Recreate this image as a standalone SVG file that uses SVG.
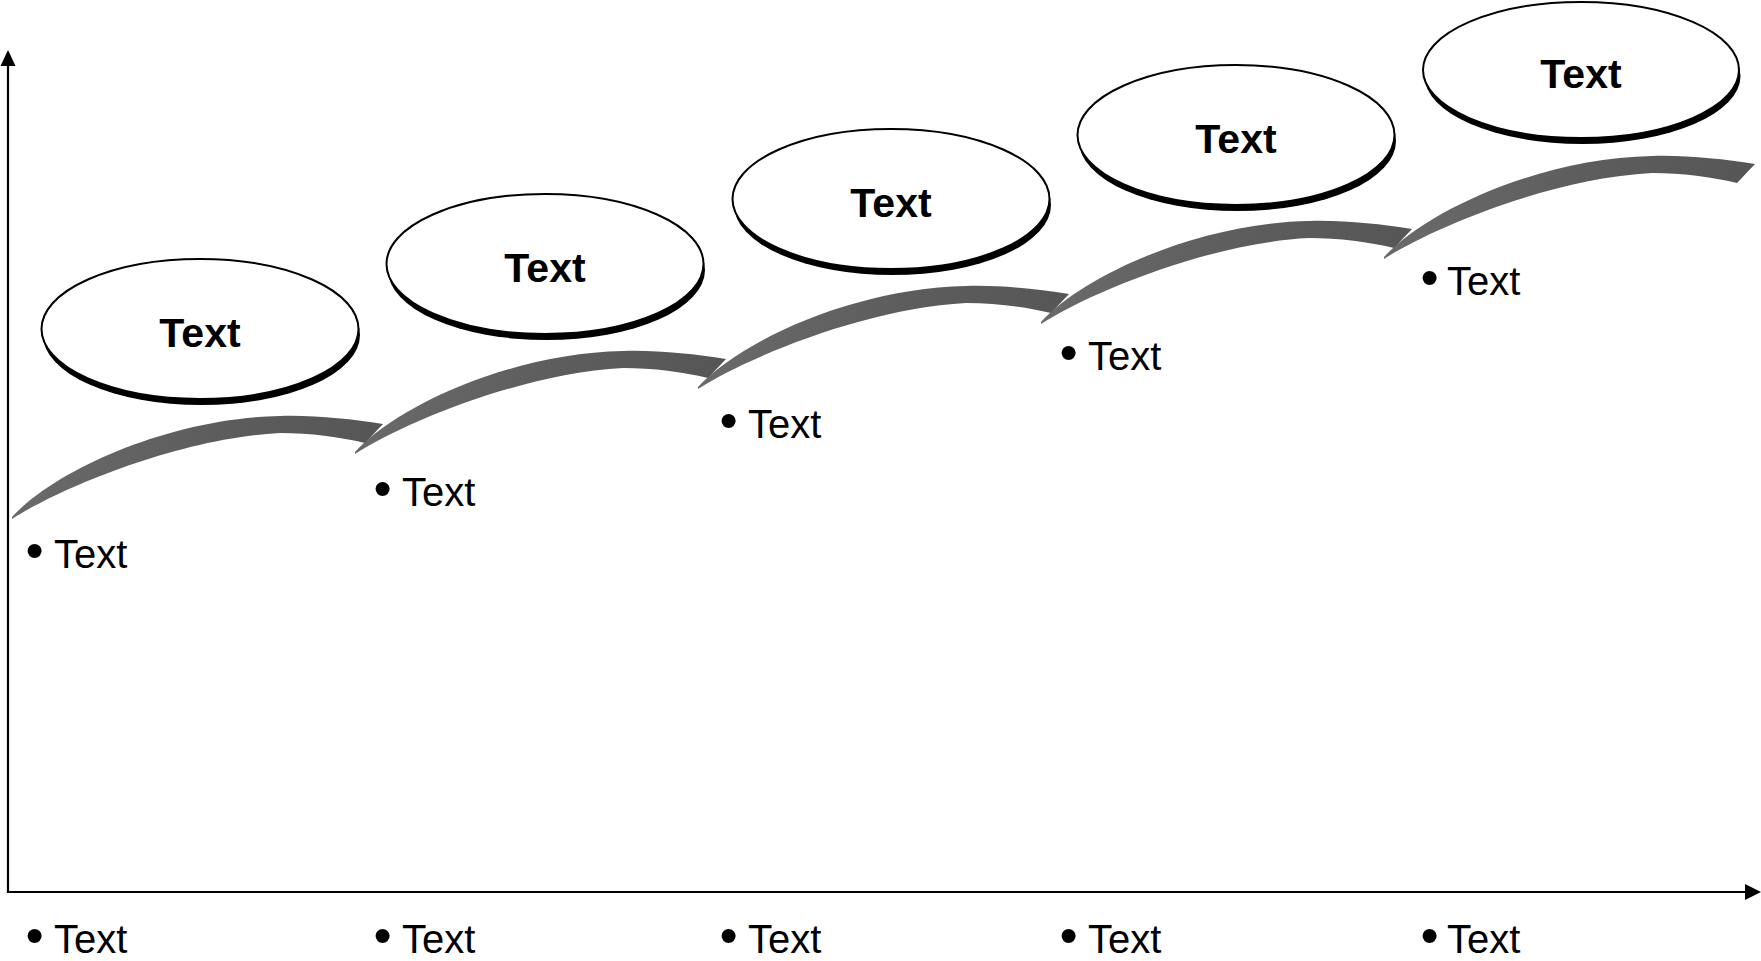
<svg xmlns="http://www.w3.org/2000/svg" width="1761" height="961" viewBox="0 0 1761 961">
<style>
.shadow{fill:#000}
.oval{fill:#fff;stroke:#000;stroke-width:2}
.title{font-family:"Liberation Sans",Arial,sans-serif;font-weight:bold;font-size:41px;text-anchor:middle;fill:#000}
.lbl{font-family:"Liberation Sans",Arial,sans-serif;font-size:40px;fill:#000}
.bul{font-family:"Liberation Sans",Arial,sans-serif;font-size:52px;fill:#000}
.swoosh{fill:url(#sg)}
.axis{stroke:#000;stroke-width:2.2;fill:none}
</style>
<defs>
<linearGradient id="sg" x1="0" y1="0" x2="1" y2="0">
<stop offset="0" stop-color="#6a6a6a"/>
<stop offset="0.6" stop-color="#5c5c5c"/>
<stop offset="1" stop-color="#565656"/>
</linearGradient>
<path id="sw" d="M12 517 C55 470 170 418 280 416 C315 415 350 419 383 424 L365 443 C340 437 310 433 280 433 C180 438 60 488 12 519 Z"/>
</defs>
<rect width="1761" height="961" fill="#fff"/>
<g id="connectors">
<use href="#sw" class="swoosh" transform="translate(0,0)"/>
<use href="#sw" class="swoosh" transform="translate(343,-65)"/>
<use href="#sw" class="swoosh" transform="translate(686,-130)"/>
<use href="#sw" class="swoosh" transform="translate(1029,-195)"/>
<use href="#sw" class="swoosh" transform="translate(1372,-260)"/>
</g>
<g id="axes">
<path class="axis" d="M8 62 V892 H1748"/>
<polygon points="8,50 0.5,66 15.5,66" fill="#000"/>
<polygon points="1761,892 1745,884 1745,900" fill="#000"/>
</g>
<g id="node1">
<ellipse class="shadow" cx="201.5" cy="335" rx="158.5" ry="70"/>
<ellipse class="oval" cx="200" cy="329" rx="158.5" ry="70"/>
<text class="title" x="200" y="347">Text</text>
</g>
<g id="node2">
<ellipse class="shadow" cx="546.5" cy="270" rx="158.5" ry="70"/>
<ellipse class="oval" cx="545" cy="264" rx="158.5" ry="70"/>
<text class="title" x="545" y="282">Text</text>
</g>
<g id="node3">
<ellipse class="shadow" cx="892.5" cy="205" rx="158.5" ry="70"/>
<ellipse class="oval" cx="891" cy="199" rx="158.5" ry="70"/>
<text class="title" x="891" y="217">Text</text>
</g>
<g id="node4">
<ellipse class="shadow" cx="1237.5" cy="141" rx="158.5" ry="70"/>
<ellipse class="oval" cx="1236" cy="135" rx="158.5" ry="70"/>
<text class="title" x="1236" y="153">Text</text>
</g>
<g id="node5">
<ellipse class="shadow" cx="1582.5" cy="76" rx="158" ry="68"/>
<ellipse class="oval" cx="1581" cy="70" rx="158" ry="68"/>
<text class="title" x="1581" y="88">Text</text>
</g>
<g id="labels">
<text class="bul" x="25.5" y="568">•</text><text class="lbl" x="54" y="568">Text</text>
<text class="bul" x="373.5" y="506">•</text><text class="lbl" x="402" y="506">Text</text>
<text class="bul" x="719.5" y="438">•</text><text class="lbl" x="748" y="438">Text</text>
<text class="bul" x="1059.5" y="370">•</text><text class="lbl" x="1088" y="370">Text</text>
<text class="bul" x="1420.5" y="295">•</text><text class="lbl" x="1447" y="295">Text</text>
<text class="bul" x="25.5" y="953">•</text><text class="lbl" x="54" y="953">Text</text>
<text class="bul" x="373.5" y="953">•</text><text class="lbl" x="402" y="953">Text</text>
<text class="bul" x="719.5" y="953">•</text><text class="lbl" x="748" y="953">Text</text>
<text class="bul" x="1059.5" y="953">•</text><text class="lbl" x="1088" y="953">Text</text>
<text class="bul" x="1420.5" y="953">•</text><text class="lbl" x="1447" y="953">Text</text>
</g>
</svg>
